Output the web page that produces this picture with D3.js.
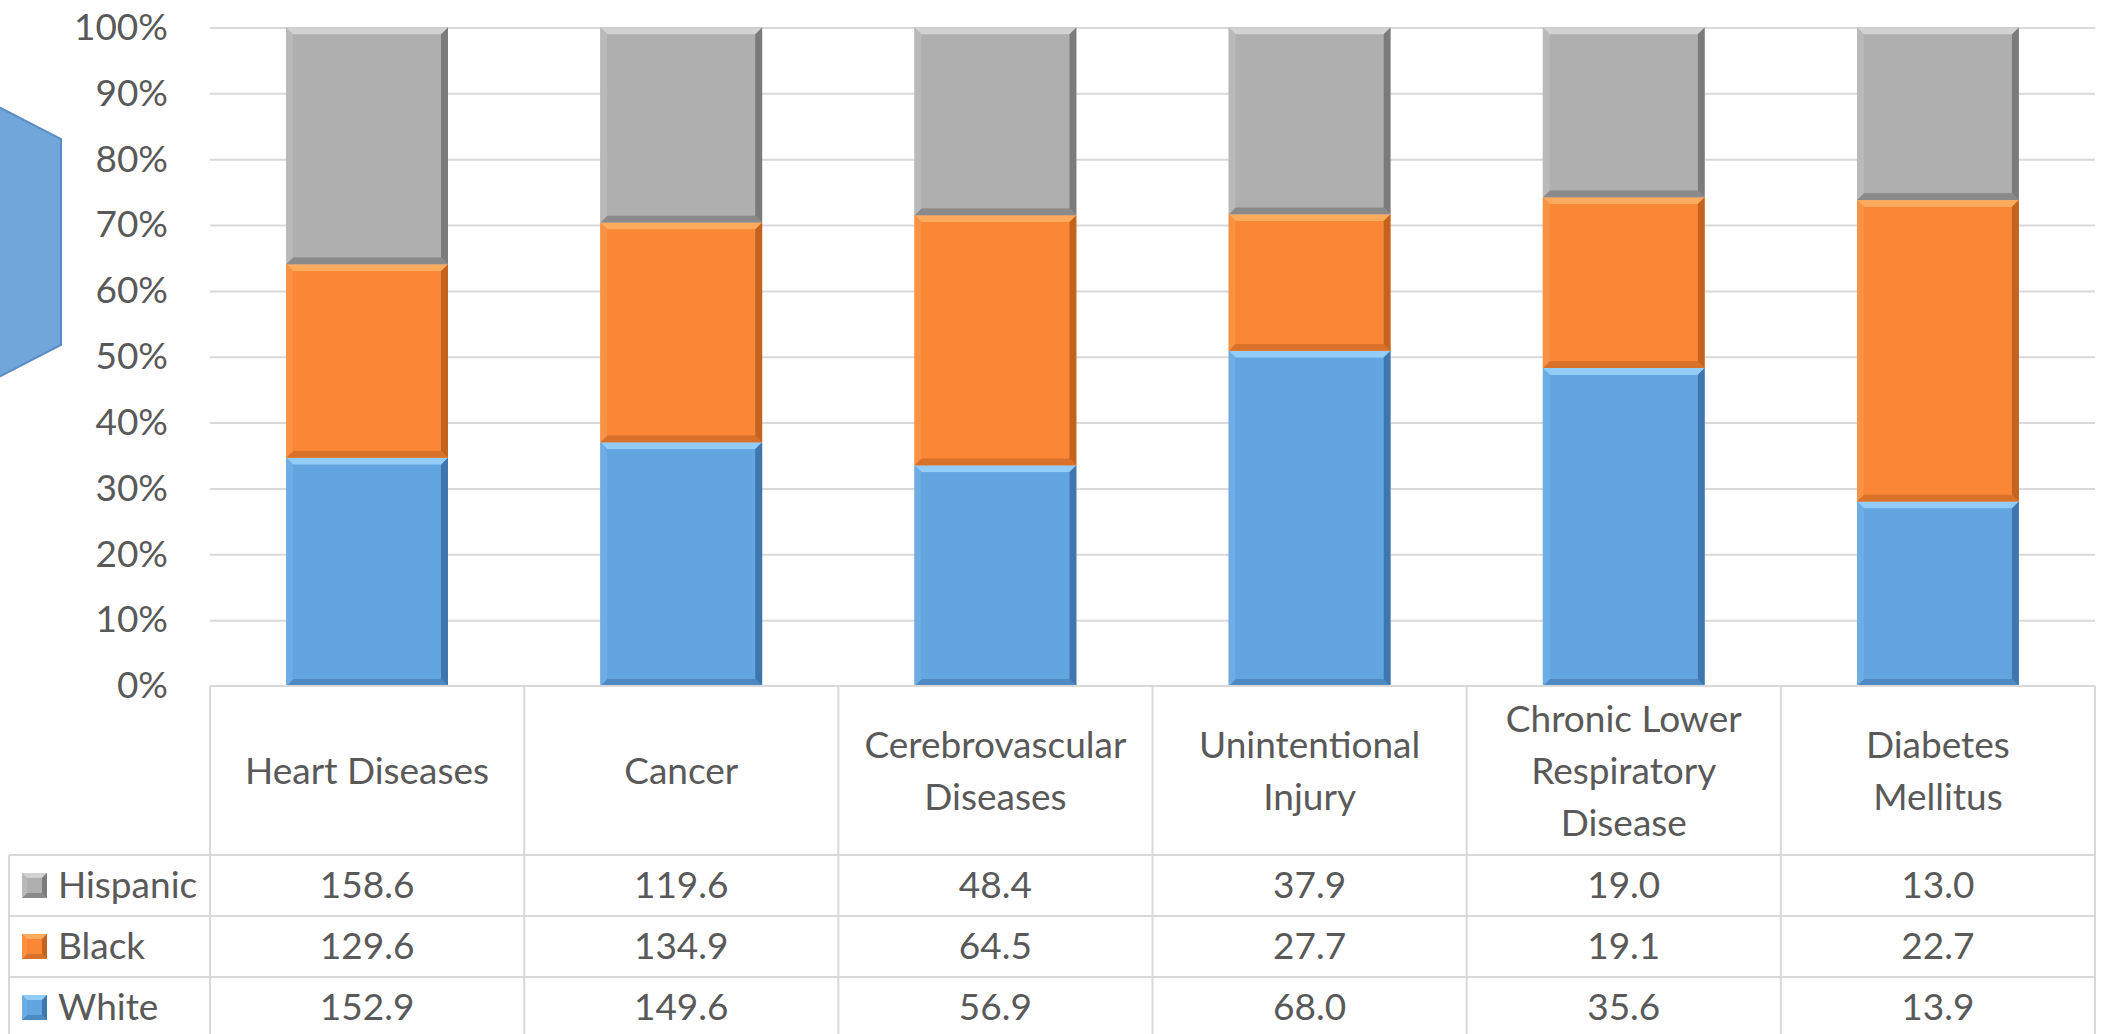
<!DOCTYPE html>
<html>
<head>
<meta charset="utf-8">
<script src="https://cdn.jsdelivr.net/npm/d3@7"></script>
<style>
  html, body { margin: 0; padding: 0; background: #ffffff; }
  svg { display: block; font-family: Lato, "Open Sans", sans-serif; }
</style>
</head>
<body>
<svg id="chart" width="2108" height="1034"></svg>
<script>
// ---- data ----
const categories = ["Heart Diseases", "Cancer", "Cerebrovascular Diseases", "Unintentional Injury", "Chronic Lower Respiratory Disease", "Diabetes Mellitus"];
const seriesNames = ["Hispanic", "Black", "White"];          // table order (top to bottom)
const hispanic = [158.6, 119.6, 48.4, 37.9, 19.0, 13.0];
const black    = [129.6, 134.9, 64.5, 27.7, 19.1, 22.7];
const white    = [152.9, 149.6, 56.9, 68.0, 35.6, 13.9];
const tickValues = [0, 0.1, 0.2, 0.3, 0.4, 0.5, 0.6, 0.7, 0.8, 0.9, 1.0];

const seriesValues = { Hispanic: hispanic, Black: black, White: white };
const stackOrder = ["White", "Black", "Hispanic"];  // bottom to top

// ---- styles ----
const palette = {
  White:    { base: "#62a5e1", top: "#93ccf6", left: "#6eade4", right: "#3f76ad", bottom: "#4f89c2" },
  Black:    { base: "#f98736", top: "#fcaa5e", left: "#fa9244", right: "#c4621f", bottom: "#d8722b" },
  Hispanic: { base: "#afafaf", top: "#d2d2d2", left: "#b9b9b9", right: "#7b7b7b", bottom: "#8a8a8a" }
};
const textColor = "#595959";
const lineColor = "#d9d9d9";
const fontSize = 37;

const svg = d3.select("#chart");

// decorative hexagon at left
svg.append("polygon")
  .attr("points", "-60,77 61,139 61,345 -60,407")
  .attr("fill", "#70a6da")
  .attr("stroke", "#5a8cc6")
  .attr("stroke-width", 2);

// ---- scales ----
const plotLeft = 210, plotRight = 2095, plotTop = 27.5, plotBottom = 686;
const xCol = d3.scaleBand().domain(categories).range([plotLeft, plotRight]).padding(0);
const x = d3.scaleBand().domain(categories).range([plotLeft, plotRight]).paddingInner(0.485).paddingOuter(0.2425);
const y = d3.scaleLinear().domain([0, 1]).range([plotBottom, plotTop]);

// gridlines
const grid = svg.append("g")
  .attr("transform", `translate(${plotLeft},0)`)
  .call(d3.axisLeft(y).tickValues(tickValues.filter(t => t > 0)).tickSize(-(plotRight - plotLeft)).tickFormat(""));
grid.select(".domain").remove();
grid.selectAll(".tick line").attr("stroke", lineColor).attr("stroke-width", 2);

// y axis labels
const yAxis = svg.append("g")
  .attr("transform", `translate(${plotLeft},0)`)
  .call(d3.axisLeft(y).tickValues(tickValues).tickSize(0).tickPadding(42).tickFormat(d3.format(".0%")));
yAxis.select(".domain").remove();
yAxis.selectAll(".tick text")
  .attr("fill", textColor)
  .style("font-size", fontSize + "px")
  .style("font-family", "Lato, 'Open Sans', sans-serif");

// ---- stacked 100% bars ----
const rows = categories.map((c, i) => {
  const r = { category: c };
  seriesNames.forEach(s => r[s] = seriesValues[s][i]);
  return r;
});
const stack = d3.stack().keys(stackOrder).offset(d3.stackOffsetExpand);
const stacked = stack(rows);

function bevel(g, x0, y0, w, h, pal, b) {
  b = Math.min(b, h / 2, w / 2);
  const x1 = x0 + w, y1 = y0 + h;
  g.append("rect").attr("x", x0).attr("y", y0).attr("width", w).attr("height", h).attr("fill", pal.base);
  g.append("polygon").attr("fill", pal.top)
    .attr("points", `${x0},${y0} ${x1},${y0} ${x1 - b},${y0 + b} ${x0 + b},${y0 + b}`);
  g.append("polygon").attr("fill", pal.bottom)
    .attr("points", `${x0},${y1} ${x1},${y1} ${x1 - b},${y1 - b} ${x0 + b},${y1 - b}`);
  g.append("polygon").attr("fill", pal.left)
    .attr("points", `${x0},${y0} ${x0 + b},${y0 + b} ${x0 + b},${y1 - b} ${x0},${y1}`);
  g.append("polygon").attr("fill", pal.right)
    .attr("points", `${x1},${y0} ${x1 - b},${y0 + b} ${x1 - b},${y1 - b} ${x1},${y1}`);
  // soften: inner gradient-ish overlay
  g.append("rect").attr("x", x0 + b).attr("y", y0 + b).attr("width", Math.max(0, w - 2 * b)).attr("height", Math.max(0, h - 2 * b)).attr("fill", pal.base);
}

const barsG = svg.append("g");
stacked.forEach(layer => {
  const key = layer.key;
  layer.forEach(seg => {
    const cat = seg.data.category;
    const x0 = x(cat), w = x.bandwidth();
    const yTop = y(seg[1]), yBot = y(seg[0]);
    bevel(barsG.append("g"), x0, yTop, w, yBot - yTop, palette[key], 7);
  });
});

// ---- data table ----
const table = svg.append("g");
const headerTop = 686, headerBottom = 855, rowH = 61, tableLeft = 9;
const rowTops = seriesNames.map((s, i) => headerBottom + i * rowH);

// horizontal lines
table.append("line").attr("x1", plotLeft).attr("x2", plotRight).attr("y1", headerTop).attr("y2", headerTop);
rowTops.forEach(t => table.append("line").attr("x1", tableLeft).attr("x2", plotRight).attr("y1", t).attr("y2", t));
table.append("line").attr("x1", tableLeft).attr("x2", plotRight).attr("y1", headerBottom + 3 * rowH).attr("y2", headerBottom + 3 * rowH);
// vertical lines
table.append("line").attr("x1", tableLeft).attr("x2", tableLeft).attr("y1", headerBottom).attr("y2", 1040);
categories.forEach(c => {
  table.append("line").attr("x1", xCol(c)).attr("x2", xCol(c)).attr("y1", headerTop).attr("y2", 1040);
});
table.append("line").attr("x1", plotRight).attr("x2", plotRight).attr("y1", headerTop).attr("y2", 1040);
table.selectAll("line").attr("stroke", lineColor).attr("stroke-width", 2);

// header labels (wrapped)
const lineStep = 51.7, capHalf = 13.3;
categories.forEach(c => {
  const cx = xCol(c) + xCol.bandwidth() / 2;
  const t = table.append("text")
    .attr("text-anchor", "middle")
    .attr("fill", textColor)
    .style("font-size", fontSize + "px");
  // word wrap by measuring
  const words = c.split(" ");
  const lines = [];
  let cur = "";
  const probe = table.append("text").style("font-size", fontSize + "px");
  words.forEach(wd => {
    const test = cur ? cur + " " + wd : wd;
    probe.text(test);
    if (probe.node().getComputedTextLength() > 262 && cur) { lines.push(cur); cur = wd; }
    else cur = test;
  });
  if (cur) lines.push(cur);
  probe.remove();
  const mid = (headerTop + headerBottom) / 2;
  lines.forEach((ln, i) => {
    t.append("tspan").attr("x", cx)
      .attr("y", mid + capHalf + (i - (lines.length - 1) / 2) * lineStep)
      .text(ln);
  });
});

// rows
seriesNames.forEach((s, ri) => {
  const top = rowTops[ri];
  const baseY = top + rowH / 2 + 12.5;
  // legend swatch
  const sw = table.append("g");
  bevel(sw, 22, top + rowH / 2 - 12.5, 25, 25, palette[s], 5);
  table.append("text").attr("x", 58).attr("y", baseY)
    .attr("fill", textColor).style("font-size", fontSize + "px").text(s);
  seriesValues[s].forEach((v, ci) => {
    const c = categories[ci];
    table.append("text")
      .attr("x", xCol(c) + xCol.bandwidth() / 2)
      .attr("y", baseY)
      .attr("text-anchor", "middle")
      .attr("fill", textColor)
      .style("font-size", fontSize + "px")
      .text(d3.format(".1f")(v));
  });
});
</script>
</body>
</html>
